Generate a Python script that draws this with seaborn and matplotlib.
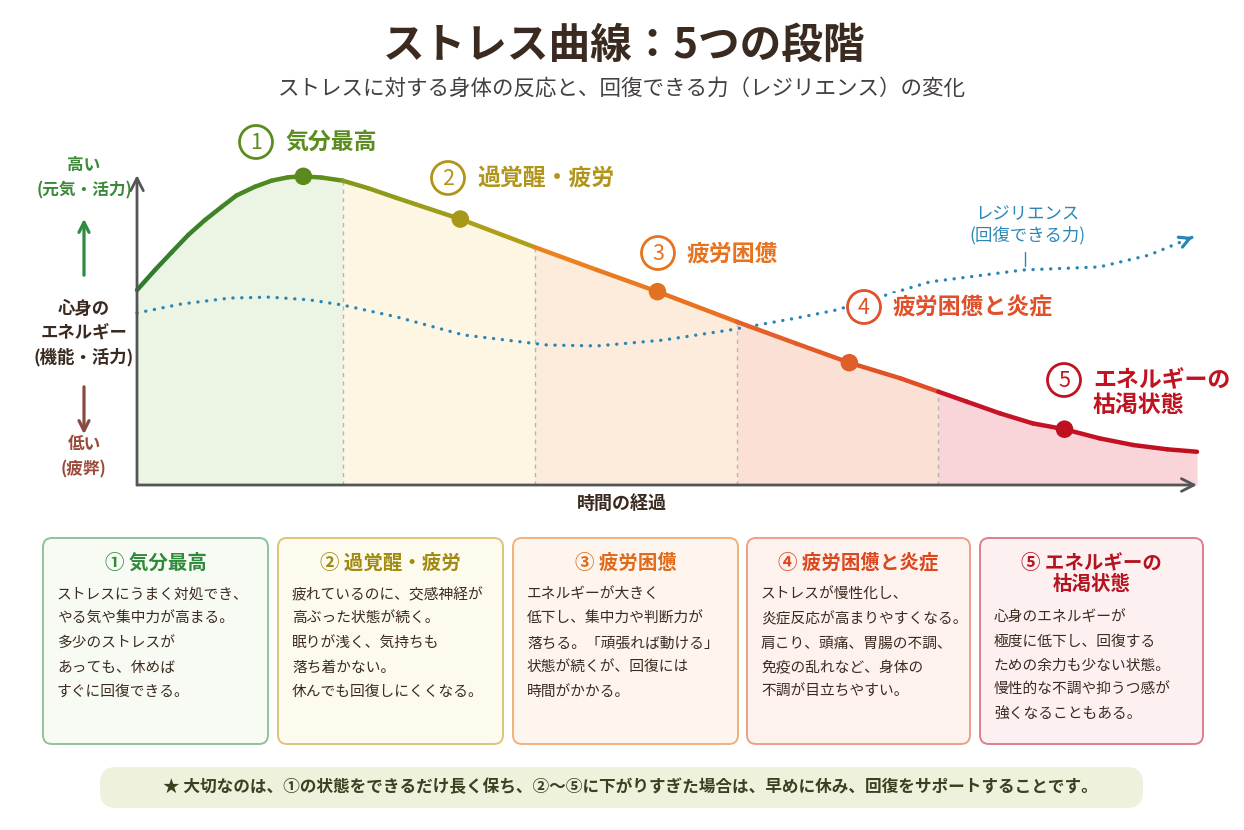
import numpy as np
import pandas as pd
import matplotlib
matplotlib.use("Agg")
import matplotlib.pyplot as plt
import matplotlib.colors as mcolors
from matplotlib.patches import FancyBboxPatch, Circle
import seaborn as sns

# ---------------- data ----------------
time_pts = [0, 1.7, 3.27, 4.84, 6.42, 7.99, 9.37, 11.13, 12.71, 14.27, 15.69, 17.42,
            19.4, 21.82, 24.34, 26.23, 30.5, 37.5, 43.4, 49.1, 56.6, 62.1, 67.2, 72.0,
            75.6, 78.3, 81.4, 84.5, 87.5, 90.8, 94.0, 97.2, 100]
energy_vals = [63.9, 70.5, 76.3, 82.0, 86.9, 91.2, 94.9, 97.8, 99.8, 100.9, 101.2, 100.8,
               99.8, 97.3, 94.3, 92.1, 87.2, 78.0, 70.5, 63.4, 53.5, 46.5, 40.1, 35.0,
               30.6, 27.3, 23.5, 20.2, 18.3, 15.3, 13.1, 11.7, 10.9]
resil_time = [0, 4.1, 8.8, 12.5, 16.3, 19.4, 24.5, 30.8, 38.7, 43.4, 49.6, 55.9,
              62.3, 66.0, 74.8, 83.6, 90.8, 95.5, 99.6]
resil_vals = [56.4, 59.3, 61.3, 61.6, 60.7, 59.0, 55.1, 49.2, 45.9, 45.6, 47.5, 50.8,
              54.8, 57.4, 66.6, 70.5, 71.5, 75.4, 81.3]
stage_bounds = [0, 19.4, 37.5, 56.6, 75.6, 100]
marker_time = [15.69, 30.5, 49.1, 67.2, 87.5]
stage_nums = ["1", "2", "3", "4", "5"]
stage_names = ["気分最高", "過覚醒・疲労", "疲労困憊", "疲労困憊と炎症", "エネルギーの\n枯渇状態"]
box_titles = ["① 気分最高", "② 過覚醒・疲労", "③ 疲労困憊", "④ 疲労困憊と炎症", "⑤ エネルギーの\n枯渇状態"]
box_bodies = [
    ["ストレスにうまく対処でき、", "やる気や集中力が高まる。", "多少のストレスが", "あっても、休めば", "すぐに回復できる。"],
    ["疲れているのに、交感神経が", "高ぶった状態が続く。", "眠りが浅く、気持ちも", "落ち着かない。", "休んでも回復しにくくなる。"],
    ["エネルギーが大きく", "低下し、集中力や判断力が", "落ちる。「頑張れば動ける」", "状態が続くが、回復には", "時間がかかる。"],
    ["ストレスが慢性化し、", "炎症反応が高まりやすくなる。", "肩こり、頭痛、胃腸の不調、", "免疫の乱れなど、身体の", "不調が目立ちやすい。"],
    ["心身のエネルギーが", "極度に低下し、回復する", "ための余力も少ない状態。", "慢性的な不調や抑うつ感が", "強くなることもある。"],
]
title = "ストレス曲線：5つの段階"
subtitle = "ストレスに対する身体の反応と、回復できる力（レジリエンス）の変化"
note = "★ 大切なのは、①の状態をできるだけ長く保ち、②〜⑤に下がりすぎた場合は、早めに休み、回復をサポートすることです。"
x_label = "時間の経過"
resil_label = "レジリエンス\n(回復できる力)"
y_high = ["高い", "(元気・活力)"]
y_mid = ["心身の", "エネルギー", "(機能・活力)"]
y_low = ["低い", "(疲弊)"]

# ---------------- style ----------------
sns.set_theme(style="white")
plt.rcParams['font.family'] = ['Noto Sans CJK JP', 'DejaVu Sans']

line_cols = [("#2c7a2e", "#62901c"), ("#84991c", "#b8a01a"), ("#ea8620", "#e86c22"),
             ("#e6622a", "#de4c26"), ("#c8142a", "#c0101e")]
marker_cols = ["#5a8a1e", "#a8981a", "#e07222", "#e05e28", "#c01020"]
fill_cols = ["#ecf5e4", "#fdf6e3", "#fdecdb", "#fbe1d5", "#f9d4d9"]
label_cols = ["#5b8c1e", "#b0951a", "#e8731f", "#e0502a", "#c0121f"]
title_cols = ["#2f8a3c", "#a08a10", "#e06a1a", "#d9481e", "#b5121f"]
edge_cols = ["#8dc39a", "#dcc47a", "#f2b07a", "#eea088", "#dc8090"]
face_cols = ["#f8fbf3", "#fdfaee", "#fef6ee", "#fef2ee", "#fdf0f1"]
dark = "#3b2a20"
blue = "#2b86b8"

W, H = 1244, 830
fig = plt.figure(figsize=(W / 100, H / 100), dpi=100)
fig.patch.set_facecolor("white")

# main chart axes positioned in pixel terms
x0px, y0px = 137, 485
sx, sy = 10.6, 3.05
xmin, xmax, ymin, ymax = -1, 103, -2, 118
ax = fig.add_axes([(x0px + xmin * sx) / W, (H - (y0px - ymin * sy)) / H,
                   (xmax - xmin) * sx / W, (ymax - ymin) * sy / H])
ax.set_xlim(xmin, xmax)
ax.set_ylim(ymin, ymax)
ax.axis("off")
ax.patch.set_alpha(0)

t = np.array(time_pts)
e = np.array(energy_vals)

# stage fills
for i in range(5):
    m = (t >= stage_bounds[i]) & (t <= stage_bounds[i + 1])
    ax.fill_between(t[m], 0, e[m], color=fill_cols[i], lw=0, zorder=1)

# boundaries
for b in stage_bounds[1:-1]:
    eb = e[time_pts.index(b)]
    ax.plot([b, b], [0, eb], color="#b5b5b5", lw=1, ls=(0, (3, 3)), zorder=2)

# main curve, gradient per stage drawn as segments
rows = []
pal = {}
for k in range(len(t) - 1):
    mid = 0.5 * (t[k] + t[k + 1])
    s = int(np.clip(np.searchsorted(stage_bounds, mid, side="right") - 1, 0, 4))
    a, b = stage_bounds[s], stage_bounds[s + 1]
    f = (mid - a) / (b - a)
    c0 = np.array(mcolors.to_rgb(line_cols[s][0]))
    c1 = np.array(mcolors.to_rgb(line_cols[s][1]))
    pal[k] = tuple(c0 + (c1 - c0) * f)
    rows.append((k, t[k], e[k]))
    rows.append((k, t[k + 1], e[k + 1]))
df = pd.DataFrame(rows, columns=["seg", "time", "energy"])
sns.lineplot(data=df, x="time", y="energy", hue="seg", palette=pal, legend=False,
             sort=False, estimator=None, linewidth=3.2, ax=ax, zorder=4,
             solid_capstyle="round", solid_joinstyle="round")

# resilience dotted curve
rdf = pd.DataFrame({"time": resil_time, "res": resil_vals})
sns.lineplot(data=rdf, x="time", y="res", color=blue, linewidth=2.4, ax=ax,
             sort=False, estimator=None, zorder=3)
rl = ax.lines[-1]
rl.set_linestyle((0, (0.05, 2.6)))
rl.set_dash_capstyle("round")
xe, ye = resil_time[-1], resil_vals[-1]
xp, yp = resil_time[-2], resil_vals[-2]
ax.annotate("", xy=(xe, ye), xytext=(xe - 0.02 * (xe - xp), ye - 0.02 * (ye - yp)),
            arrowprops=dict(arrowstyle="->,head_length=0.6,head_width=0.32", color=blue,
                            lw=2.3, shrinkA=0, shrinkB=0), zorder=3)

# markers
mdf = pd.DataFrame({"time": marker_time,
                    "energy": [e[time_pts.index(m)] for m in marker_time],
                    "stage": stage_nums})
sns.scatterplot(data=mdf, x="time", y="energy", hue="stage",
                palette=dict(zip(stage_nums, marker_cols)), s=160, legend=False,
                edgecolor="none", ax=ax, zorder=5)

# axes arrows
for tip in [(100, 0), (0, 101.6)]:
    ax.annotate("", xy=tip, xytext=(0, 0),
                arrowprops=dict(arrowstyle="->,head_length=0.75,head_width=0.38", color="#555555",
                                lw=2, shrinkA=0, shrinkB=0), zorder=6)

# ---------------- overlay in pixel coordinates ----------------
ov = fig.add_axes([0, 0, 1, 1])
ov.set_xlim(0, W)
ov.set_ylim(H, 0)
ov.axis("off")
ov.patch.set_alpha(0)
ov.set_zorder(5)

ov.text(624, 46, title, ha="center", va="center", fontsize=30, fontweight="bold", color=dark)
ov.text(622, 89, subtitle, ha="center", va="center", fontsize=15.5, color="#444040")

# stage labels in chart
lab_pos = [(256, 142), (448, 178), (658, 253), (864, 307), (1064, 380)]
for i, (cx, cy) in enumerate(lab_pos):
    ov.add_patch(Circle((cx, cy), 16.5, facecolor="white", edgecolor=label_cols[i], lw=2, zorder=3))
    ov.text(cx, cy + 1, stage_nums[i], ha="center", va="center", fontsize=15.5,
            color=label_cols[i], zorder=4)
    ov.text(cx + 29, cy + 1 if i < 4 else cy + 13, stage_names[i], ha="left", va="center",
            fontsize=16.5, fontweight="bold", color=label_cols[i], linespacing=1.1,
            bbox=dict(boxstyle="square,pad=0.15", facecolor="white", edgecolor="none"), zorder=3)

# resilience label
ov.text(1027, 225, resil_label, ha="center", va="center", fontsize=12.5, color=blue,
        linespacing=1.2)
ov.plot([1025, 1025], [252, 266], color=blue, lw=1)

# left axis labels
green = "#3a8a3a"
brown = "#9a4a3a"
ov.text(84, 165, y_high[0], ha="center", va="center", fontsize=12, color=green, fontweight="bold")
ov.text(84, 190, y_high[1], ha="center", va="center", fontsize=12, color=green, fontweight="bold")
ov.annotate("", xy=(84, 216), xytext=(84, 278),
            arrowprops=dict(arrowstyle="->,head_length=0.6,head_width=0.3", color="#2e8b40", lw=2.3))
for j, s in enumerate(y_mid):
    ov.text(84, 309 + j * 24, s, ha="center", va="center", fontsize=12.5, color=dark, fontweight="bold")
ov.annotate("", xy=(84, 437), xytext=(84, 384),
            arrowprops=dict(arrowstyle="->,head_length=0.6,head_width=0.3", color="#8b4a40", lw=2.3))
ov.text(84, 444, y_low[0], ha="center", va="center", fontsize=12, color=brown, fontweight="bold")
ov.text(84, 469, y_low[1], ha="center", va="center", fontsize=12, color=brown, fontweight="bold")

ov.text(622, 503, x_label, ha="center", va="center", fontsize=13, color=dark, fontweight="bold")

# description boxes
box_x = [(43, 268), (278, 503), (513, 738), (747, 970), (980, 1203)]
bt, bb = 538, 744
for i, (l, r) in enumerate(box_x):
    ov.add_patch(FancyBboxPatch((l, bt), r - l, bb - bt,
                                boxstyle="round,pad=0,rounding_size=9",
                                facecolor=face_cols[i], edgecolor=edge_cols[i], lw=1.4))
    cxb = (l + r) / 2
    if i < 4:
        ov.text(cxb, 563, box_titles[i], ha="center", va="center", fontsize=14,
                fontweight="bold", color=title_cols[i])
        y_start = 595
    else:
        ov.text(cxb, 574, box_titles[i], ha="center", va="center", fontsize=14,
                fontweight="bold", color=title_cols[i], linespacing=1.15)
        y_start = 617
    for j, ln in enumerate(box_bodies[i]):
        ov.text(l + 14, y_start + j * 24.3, ln, ha="left", va="center", fontsize=10.6, color=dark)

# bottom note
ov.add_patch(FancyBboxPatch((100, 767), 1043, 41, boxstyle="round,pad=0,rounding_size=16",
                            facecolor="#eef2dd", edgecolor="none"))
ov.text(630, 787.5, note, ha="center", va="center", fontsize=12, color="#3d4020",
        fontweight="bold")

fig.savefig("out.png", dpi=100, facecolor="white")
